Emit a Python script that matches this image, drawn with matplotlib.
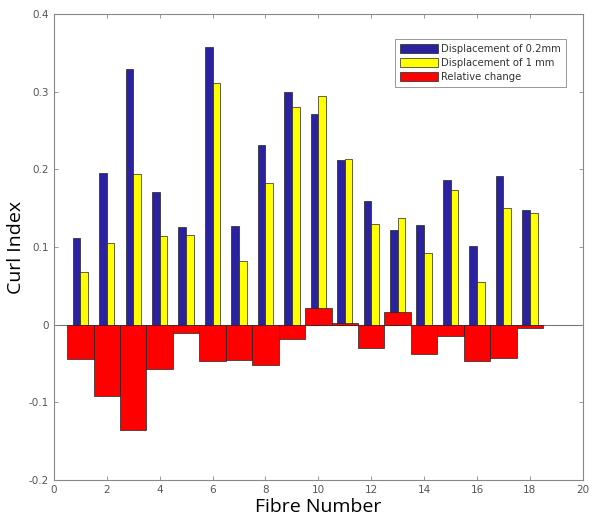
import numpy as np
import matplotlib
matplotlib.use('Agg')
import matplotlib.pyplot as plt

# ── Data ─────────────────────────────────────────────────────────────────────
fibres = np.arange(1, 19)
disp_02mm = [0.112, 0.196, 0.329, 0.171, 0.126, 0.358, 0.127, 0.232, 0.300,
             0.272, 0.212, 0.159, 0.122, 0.128, 0.187, 0.101, 0.192, 0.148]
disp_1mm = [0.068, 0.105, 0.194, 0.114, 0.116, 0.311, 0.082, 0.182, 0.281,
            0.295, 0.214, 0.130, 0.138, 0.092, 0.173, 0.055, 0.150, 0.144]
rel_change = [-0.044, -0.092, -0.135, -0.057, -0.011, -0.047, -0.045, -0.052, -0.018,
              0.022, 0.002, -0.030, 0.016, -0.037, -0.015, -0.046, -0.043, -0.004]

COL_BLUE = "#2B22A0"
COL_YEL = "#FFFF00"
COL_RED = "#FF0000"
COL_TICK = "#555555"

fig = plt.figure(figsize=(5.99, 5.23), dpi=100)
ax = fig.add_axes([0.090, 0.082, 0.883, 0.891])

w = 0.29
ax.bar(fibres - w / 2, disp_02mm, width=w, color=COL_BLUE, edgecolor="#222222",
       linewidth=0.5, label="Displacement of 0.2mm", zorder=2)
ax.bar(fibres + w / 2, disp_1mm, width=w, color=COL_YEL, edgecolor="#222222",
       linewidth=0.5, label="Displacement of 1 mm", zorder=2)
ax.bar(fibres, rel_change, width=1.0, color=COL_RED, edgecolor="#222222",
       linewidth=0.5, label="Relative change", zorder=3)
ax.axhline(0, color="#777777", lw=0.8, zorder=1)

ax.set_xlim(0, 20)
ax.set_ylim(-0.2, 0.4)
ax.set_xticks(np.arange(0, 21, 2))
ax.set_yticks(np.arange(-0.2, 0.41, 0.1))
ax.set_yticklabels(["-0.2", "-0.1", "0", "0.1", "0.2", "0.3", "0.4"])
ax.tick_params(direction='in', length=3, width=0.6, labelsize=7.5,
               labelcolor=COL_TICK, color="#888888", top=True, right=True)
for sp in ax.spines.values():
    sp.set_color("#888888")
    sp.set_linewidth(0.8)

ax.set_xlabel("Fibre Number", fontsize=14, family="Open Sans", labelpad=2)
ax.set_ylabel("Curl Index", fontsize=14, family="Open Sans", labelpad=3)

leg = ax.legend(loc='upper right', bbox_to_anchor=(0.968, 0.946), fontsize=7.2,
                fancybox=False, framealpha=1, edgecolor="#888888",
                handlelength=3.8, handleheight=1.0, handletextpad=0.3,
                labelspacing=0.4, borderpad=0.5, borderaxespad=0)
leg.get_frame().set_linewidth(0.6)
for t in leg.get_texts():
    t.set_color("#333333")

plt.savefig("out.png", dpi=100, facecolor="white")
plt.close()
